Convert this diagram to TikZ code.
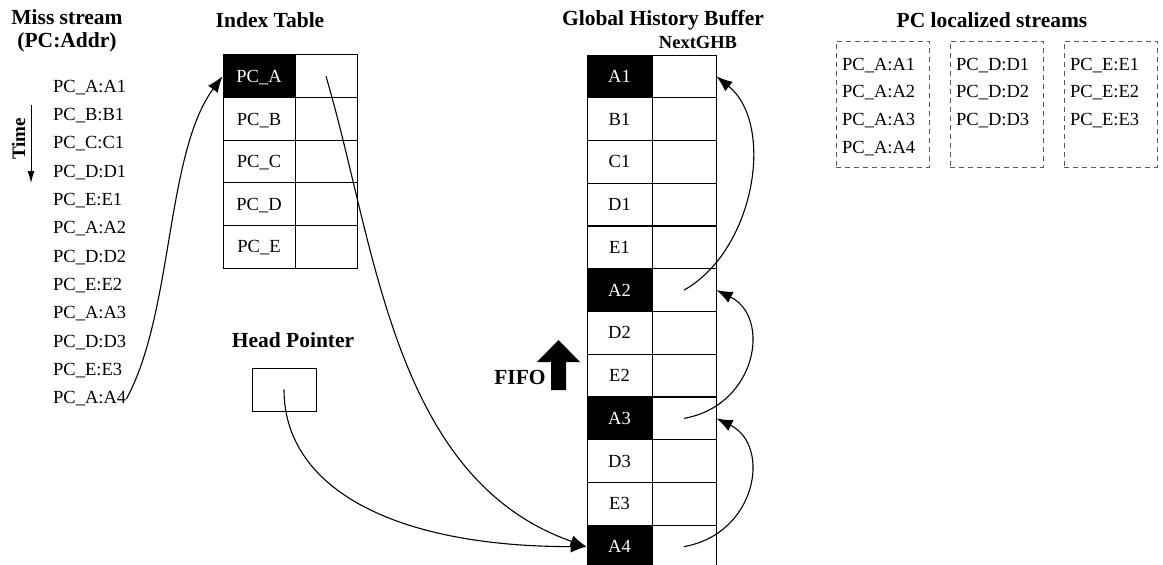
\documentclass[tikz,border=0pt]{standalone}
\usepackage{fontspec}
\setmainfont{Liberation Serif}
\usetikzlibrary{arrows.meta}

\begin{document}
\begin{tikzpicture}[x=1pt,y=-1pt,
  txt/.style={font=\fontsize{18.5}{22}\selectfont, inner sep=0pt, anchor=base west},
  ttl/.style={font=\fontsize{21.5}{23}\selectfont\bfseries, inner sep=0pt, align=center},
  cell/.style={draw, line width=1pt, minimum height=42.7pt, inner sep=0pt,
    text height=12.2pt, text depth=0pt, font=\fontsize{18.5}{22}\selectfont},
  ptr/.style={line width=1.1pt, -{Latex[length=16pt,width=12pt]}},
  grp/.style={draw=black!65, dash pattern=on 5pt off 4pt, line width=1pt,
    minimum width=93pt, minimum height=126pt, inner sep=0pt},
]
\useasboundingbox (0,0) rectangle (1163,565);

% ---------- miss stream ----------
\node[ttl] (mtitle) at (67,31) {Miss stream\\(PC:Addr)};
\foreach \s [count=\i] in {PC\_A:A1,PC\_B:B1,PC\_C:C1,PC\_D:D1,PC\_E:E1,PC\_A:A2,
    PC\_D:D2,PC\_E:E2,PC\_A:A3,PC\_D:D3,PC\_E:E3,PC\_A:A4}
  \node[txt] (m\i) at (53,{92+28.35*(\i-1)}) {\s};
\node[font=\fontsize{19}{21}\selectfont\bfseries, rotate=90, inner sep=0pt] (time) at (18.5,139) {Time};
\coordinate (t0) at (31,105);
\coordinate (t1) at (31,183);
\draw[line width=1pt, -{Latex[length=12pt,width=7pt]}] (t0) -- (t1);

% ---------- index table ----------
\node[ttl] (ititle) at (270,20) {Index Table};
\foreach \s/\fc/\tc [count=\i] in {PC\_A/black/white,PC\_B/white/black,PC\_C/white/black,
    PC\_D/white/black,PC\_E/white/black} {
  \node[cell, minimum width=72pt, fill=\fc, text=\tc] (k\i) at (259,{55+42.6*(\i-0.5)}) {\s};
  \node[cell, minimum width=62pt] (p\i) at (326,{55+42.6*(\i-0.5)}) {};
}

% ---------- head pointer ----------
\node[ttl] (htitle) at (293,340) {Head Pointer};
\node[draw, line width=1pt, minimum width=64pt, minimum height=43pt, inner sep=0pt] (hp) at (284,389.5) {};

% ---------- global history buffer ----------
\node[ttl] (gtitle) at (663,20) {Global History Buffer};
\node[font=\fontsize{18.5}{20}\selectfont\bfseries, inner sep=0pt] (ngtitle) at (698,42) {NextGHB};
\foreach \s/\fc/\tc [count=\i] in {A1/black/white,B1/white/black,C1/white/black,D1/white/black,
    E1/white/black,A2/black/white,D2/white/black,E2/white/black,A3/black/white,
    D3/white/black,E3/white/black,A4/black/white} {
  \node[cell, minimum width=65pt, fill=\fc, text=\tc] (g\i) at (619.5,{55+42.75*(\i-0.5)}) {\s};
  \node[cell, minimum width=64pt] (n\i) at (684,{55+42.75*(\i-0.5)}) {};
}

% FIFO direction
\node[ttl] (fifo) at (520,377) {FIFO};
\fill[black] (551,390) -- (551,362) -- (537,362) -- (558.5,340) -- (580,362)
  -- (566,362) -- (566,390) -- cycle;

% ---------- PC localized streams ----------
\node[ttl] (ltitle) at (992,20) {PC localized streams};
\node[grp] (sa) at (882.5,104) {};
\node[grp] (sd) at (996.5,104) {};
\node[grp] (se) at (1110.5,104) {};
\foreach \s [count=\i] in {PC\_A:A1,PC\_A:A2,PC\_A:A3,PC\_A:A4}
  \node[txt] (la\i) at (842,{70+27.8*(\i-1)}) {\s};
\foreach \s [count=\i] in {PC\_D:D1,PC\_D:D2,PC\_D:D3}
  \node[txt] (ld\i) at (956,{70+27.8*(\i-1)}) {\s};
\foreach \s [count=\i] in {PC\_E:E1,PC\_E:E2,PC\_E:E3}
  \node[txt] (le\i) at (1070,{70+27.8*(\i-1)}) {\s};

% ---------- pointers ----------
\draw[ptr] (m12.east) .. controls +(47,-86) and +(-57,77) .. (k1.west);
\draw[ptr] (p1.center) .. controls +(50,169) and +(-194,-68) .. (g12.west);
\draw[ptr] (hp.center) .. controls +(0,97) and +(-196,0) .. (g12.west);
\draw[ptr] (n6.center) .. controls +(71,-40) and +(59,48) .. (n1.east);
\draw[ptr] (n9.center) .. controls +(73,-13) and +(55,27) .. (n6.east);
\draw[ptr] (n12.center) .. controls +(73,-13) and +(55,27) .. (n9.east);
\end{tikzpicture}
\end{document}
